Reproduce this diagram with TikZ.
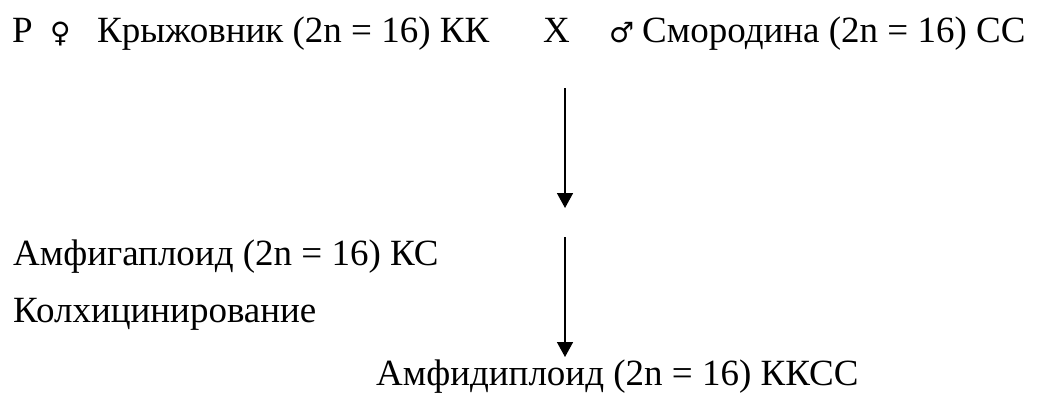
\documentclass[tikz,border=0pt]{standalone}
\usepackage{fontspec}
\setmainfont{Liberation Serif}
\newfontfamily\symfont{DejaVu Sans}
\usetikzlibrary{arrows.meta}
\begin{document}
\begin{tikzpicture}[x=1pt,y=-1pt,
  txt/.style={anchor=base west,inner sep=0pt,font=\fontsize{37}{44}\selectfont},
  sym/.style={anchor=base west,inner sep=0pt,font=\symfont\fontsize{28}{34}\selectfont},
  arr/.style={line width=1.6pt,-{Triangle[width=16pt,length=15pt]}}]
\useasboundingbox (0,0) rectangle (1051,392);
\node[txt] (p) at (12,42) {P};
\node[sym] (fem) at (50,42) {♀};
\node[txt] (kr) at (97,42) {Крыжовник (2n = 16) КК};
\node[txt] (x) at (543,42) {X};
\node[sym] (mal) at (609,42) {♂};
\node[txt] (sm) at (642,42) {Смородина (2n = 16) СС};
\node[txt] (amg) at (13,265) {Амфигаплоид (2n = 16) КС};
\node[txt] (kol) at (13,322) {Колхицинирование};
\node[txt] (amd) at (376,385) {Амфидиплоид (2n = 16) ККСС};
\coordinate (a1s) at (565,88);
\coordinate (a1e) at (565,208);
\coordinate (a2s) at (565,237);
\coordinate (a2e) at (565,357);
\draw[arr] (a1s) -- (a1e);
\draw[arr] (a2s) -- (a2e);
\end{tikzpicture}
\end{document}
